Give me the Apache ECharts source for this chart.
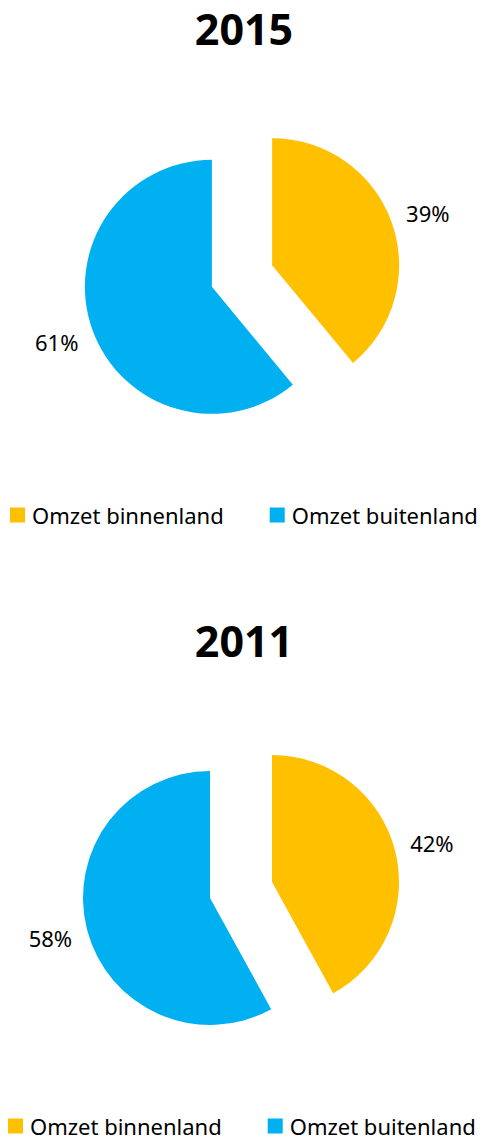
<!DOCTYPE html>
<html>
<head>
<meta charset="utf-8">
<script src="https://cdn.jsdelivr.net/npm/echarts@6/dist/echarts.min.js"></script>
<style>
  html, body { margin: 0; padding: 0; background: #fff; }
  #chart { width: 488px; height: 1140px; }
</style>
</head>
<body>
<div id="chart"></div>
<script>
// Omzet verdeling binnenland / buitenland
var years = ['2015', '2011'];
var categories = ['Omzet binnenland', 'Omzet buitenland'];
var share2015 = [39, 61];
var share2011 = [42, 58];

var colors = ['#FFC000', '#00B0F0'];
var font = 'Noto Sans';

// labels sit close to the slice, no label line (length / length2 per slice)
var labelTweak = [
  [{ length: 26, length2: -10 }, { length: 35, length2: -19 }],
  [{ length: 28, length2: -12 }, { length: 36, length2: -20 }]
];

function pieData(values, chartIdx) {
  return values.map(function (v, i) {
    return {
      name: categories[i],
      value: v,
      selected: true,
      itemStyle: { color: colors[i] },
      labelLine: { show: false, length: labelTweak[chartIdx][i].length, length2: labelTweak[chartIdx][i].length2 }
    };
  });
}

function pieSeries(values, chartIdx, center) {
  return {
    type: 'pie',
    radius: 127,
    center: center,
    startAngle: 90,
    clockwise: true,
    selectedMode: 'multiple',
    selectedOffset: 32,
    avoidLabelOverlap: false,
    emphasis: { disabled: true },
    select: { itemStyle: { borderWidth: 0 } },
    label: {
      show: true,
      position: 'outside',
      formatter: '{c}%',
      color: '#000',
      fontFamily: font,
      fontSize: 22,
      distanceToLabelLine: 0
    },
    data: pieData(values, chartIdx)
  };
}

function legendAt(left, top) {
  return {
    left: left, top: top, padding: 0, icon: 'rect', itemWidth: 15, itemHeight: 15, itemGap: 46,
    selectedMode: false,
    data: categories,
    textStyle: { fontFamily: font, fontSize: 22, color: '#000', padding: [0, 0, 0, 2] }
  };
}

var chart = echarts.init(document.getElementById('chart'), null, { renderer: 'svg' });
chart.setOption({
  animation: false,
  title: [
    { text: years[0], left: 'center', top: 2, textStyle: { fontFamily: font, fontSize: 43, fontWeight: 'bold', color: '#000' } },
    { text: years[1], left: 'center', top: 614, textStyle: { fontFamily: font, fontSize: 43, fontWeight: 'bold', color: '#000' } }
  ],
  legend: [legendAt(10, 504), legendAt(8, 1115)],
  series: [
    pieSeries(share2015, 0, [242, 276]),
    pieSeries(share2011, 1, [241, 890])
  ]
});
window.addEventListener('resize', function () { chart.resize(); });
</script>
</body>
</html>
